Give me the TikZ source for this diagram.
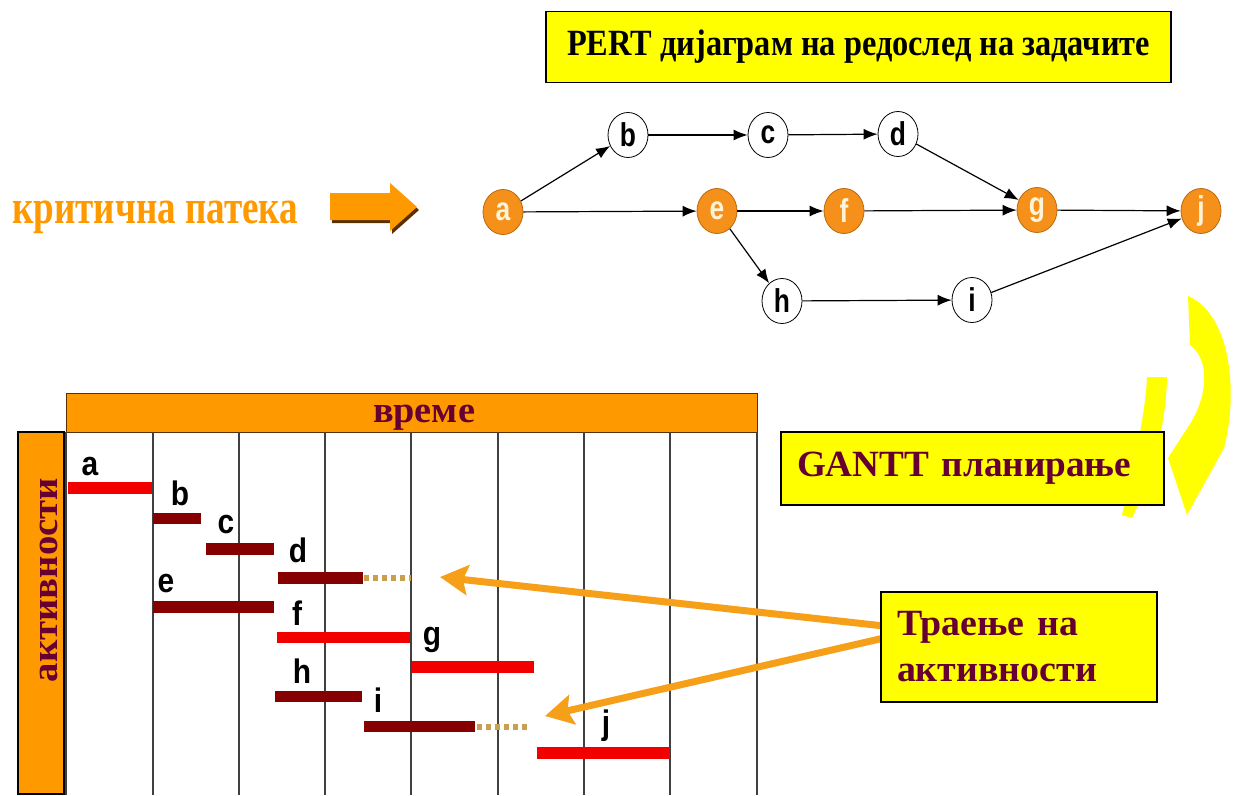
\documentclass[tikz,border=0pt]{standalone}
\usepackage{fontspec}
\setmainfont{Liberation Serif}
\newfontfamily\arialf{Liberation Sans}
\usetikzlibrary{shapes.geometric,arrows.meta}
\newcommand\fitw[2]{\resizebox{#1}{\height}{#2}}
\newcommand\nl[1]{\scalebox{0.8}[1]{#1}}
\newcommand\gl[1]{\scalebox{0.88}[1]{#1}}
\definecolor{ybox}{HTML}{FFFF00}
\definecolor{mymaroon}{HTML}{660033}
\definecolor{crit}{HTML}{FF9900}
\definecolor{nodeor}{HTML}{F5901A}
\definecolor{nodebd}{HTML}{B86A10}
\definecolor{cream}{HTML}{FFF4D8}
\definecolor{hdror}{HTML}{FF9900}
\definecolor{barred}{HTML}{F20000}
\definecolor{bardark}{HTML}{870000}
\definecolor{dotc}{HTML}{C9A050}
\definecolor{arrowor}{HTML}{F6A01A}
\definecolor{shadowc}{HTML}{5A3000}
\begin{document}
\begin{tikzpicture}[x=1pt,y=-1pt,
  pn/.style={ellipse, draw=black, line width=0.8pt, fill=white, minimum width=40pt,
    minimum height=45pt, inner sep=0pt, font=\arialf\bfseries\fontsize{33}{33}\selectfont},
  cn/.style={pn, draw=nodebd, fill=nodeor, text=cream},
  pe/.style={-{Latex[length=14pt,width=11pt]}, line width=1.2pt},
  ybx/.style={draw=black, line width=1.5pt, fill=ybox},
  big/.style={font=\bfseries\fontsize{37}{37}\selectfont},
  glab/.style={anchor=base, font=\arialf\bfseries\fontsize{34}{34}\selectfont, inner sep=0pt},
  gline/.style={draw=black!75, line width=1.2pt},
  redbar/.style={fill=barred},
  darkbar/.style={fill=bardark},
  dotbar/.style={draw=dotc, line width=6pt, dash pattern=on 5pt off 4pt},
  orarrow/.style={draw=arrowor, line width=7pt, -{Stealth[length=28pt,width=30pt,inset=5pt]}}
]
\useasboundingbox (0,0) rectangle (1238,795);

% ---------- title ----------
\node[ybx, big, minimum width=625pt, minimum height=71pt, inner sep=0pt] (title) at (858.5,47)
  {\fitw{583pt}{PERT дијаграм на редослед на задачите}};

% ---------- critical path label ----------
\node[anchor=base west, inner sep=0pt, text=crit, font=\bfseries\fontsize{48}{48}\selectfont] (crit) at (12,223)
  {\fitw{286pt}{критична патека}};
\fill[shadowc] (332,196) -- (392,196) -- (392,186) -- (419,210) -- (392,234) -- (392,223) -- (332,223) -- cycle;
\fill[crit] (330,193) -- (390,193) -- (390,183) -- (417,207) -- (390,231) -- (390,220) -- (330,220) -- cycle;

% ---------- PERT network ----------
\node[cn] (a) at (503,212) {\nl{a}};
\node[pn] (b) at (628,135) {\nl{b}};
\node[pn] (c) at (768,135) {\nl{c}};
\node[pn] (d) at (898,134) {\nl{d}};
\node[cn] (e) at (717,211) {\nl{e}};
\node[cn] (f) at (844,211) {\nl{f}};
\node[cn] (g) at (1037,210) {\nl{g}};
\node[cn] (j) at (1201,211) {\nl{j}};
\node[pn] (h) at (782,301) {\nl{h}};
\node[pn] (i) at (972,300) {\nl{i}};

\draw[pe] (a) -- (b);
\draw[pe] (b) -- (c);
\draw[pe] (c) -- (d);
\draw[pe] (a) -- (e);
\draw[pe] (e) -- (f);
\draw[pe] (f) -- (g);
\draw[pe] (d) -- (g);
\draw[pe] (g) -- (j);
\draw[pe] (e) -- (h);
\draw[pe] (h) -- (i);
\draw[pe] (i) -- (j);

% ---------- yellow curved arrow ----------
\fill[ybox] (1147,377) -- (1167,377) .. controls (1166,430) and (1150,480) .. (1132,518)
  -- (1122,515) .. controls (1132,470) and (1145,420) .. cycle;
\fill[ybox] (1188,296) .. controls (1232,315) and (1238,395) .. (1224,448)
  -- (1187,515) -- (1168,458) -- (1190,424)
  .. controls (1208,395) and (1210,360) .. (1190,345) -- cycle;

% ---------- GANTT box ----------
\node[ybx, minimum width=383pt, minimum height=73pt, text width=351pt, align=left,
  inner xsep=16pt, inner ysep=0pt, text=mymaroon, big] (gantt) at (972.5,468.5)
  {\fitw{334pt}{GANTT планирање}};

% ---------- Gantt chart ----------
\draw[draw=shadowc, fill=hdror, line width=1pt] (66,393) rectangle (757,432);
\node[anchor=base, inner sep=0pt, text=mymaroon, big] (vreme) at (424,422) {\fitw{102pt}{време}};
\draw[draw=black, fill=hdror, line width=1.5pt] (18,432) rectangle (64,794);
\node[rotate=90, inner sep=0pt, text=mymaroon, big] (akt) at (49,580) {\fitw{204pt}{активности}};
\foreach \x in {66,153,239,325,411,498,584,670,757}
  \draw[gline] (\x,432) -- (\x,795);

\fill[redbar]  (68,482) rectangle (152,494);
\fill[darkbar] (153,513) rectangle (201,524);
\fill[darkbar] (206,543) rectangle (274,555);
\fill[darkbar] (278,572) rectangle (363,584);
\draw[dotbar] (364,578) -- (411,578);
\fill[darkbar] (153,601) rectangle (274,613);
\fill[redbar]  (277,632) rectangle (410,643);
\fill[redbar]  (412,661) rectangle (534,673);
\fill[darkbar] (275,691) rectangle (362,702);
\fill[darkbar] (364,721) rectangle (475,732);
\draw[dotbar] (477,727) -- (530,727);
\fill[redbar]  (537,747) rectangle (670,759);

\node[glab] (la) at (90,475) {\gl{a}};
\node[glab] (lb) at (180,505) {\gl{b}};
\node[glab] (lc) at (226,533) {\gl{c}};
\node[glab] (ld) at (298,562) {\gl{d}};
\node[glab] (le) at (166,592) {\gl{e}};
\node[glab] (lf) at (297,625) {\gl{f}};
\node[glab] (lg) at (432,645) {\gl{g}};
\node[glab] (lh) at (302,683) {\gl{h}};
\node[glab] (li) at (378,712) {\gl{i}};
\node[glab] (lj) at (606,734) {\gl{j}};

% ---------- duration box and arrows ----------
\coordinate (t1) at (884,626);
\coordinate (t2) at (884,638);
\coordinate (p1) at (440,577);
\coordinate (p2) at (545,716);
\draw[orarrow] (t1) -- (p1);
\draw[orarrow] (t2) -- (p2);
\node[ybx, minimum width=276pt, minimum height=110pt, text width=244pt, align=left,
  inner xsep=16pt, inner ysep=0pt, text=mymaroon, font=\bfseries\fontsize{37}{46}\selectfont] (tr) at (1019,647)
  {\fitw{181pt}{Траење на}\\\fitw{200pt}{активности}};
\end{tikzpicture}
\end{document}
